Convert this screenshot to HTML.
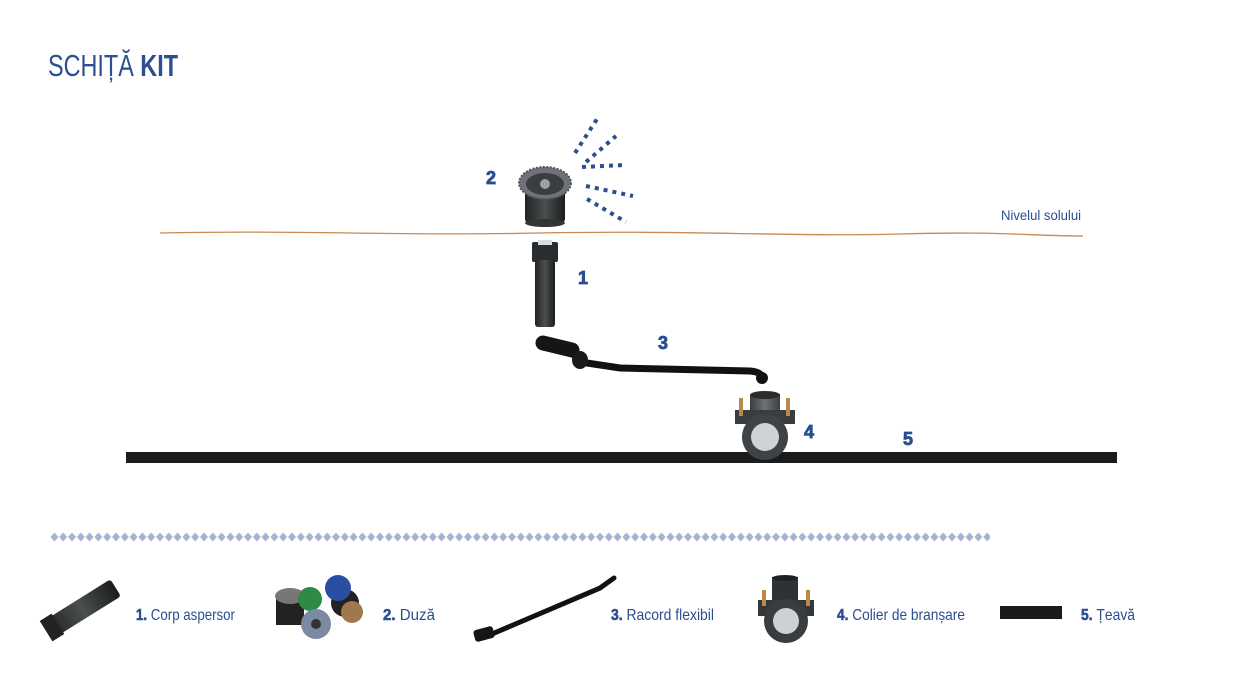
<!DOCTYPE html>
<html><head><meta charset="utf-8"><style>
html,body{margin:0;padding:0;background:#fff;}
svg{display:block;}
text{font-family:"Liberation Sans",sans-serif;}
</style></head><body>
<svg width="1244" height="700" viewBox="0 0 1244 700" xmlns="http://www.w3.org/2000/svg">
<defs>
<pattern id="dia" x="50" y="531" width="8.8" height="12" patternUnits="userSpaceOnUse">
<path d="M4.4 1.5 L8.4 6 L4.4 10.5 L0.4 6 Z" fill="#a3b3d3"/>
</pattern>
<linearGradient id="cyl" x1="0" x2="1"><stop offset="0" stop-color="#222"/><stop offset="0.5" stop-color="#4a4f4f"/><stop offset="1" stop-color="#1c1c1c"/></linearGradient>
<linearGradient id="gry" x1="0" x2="1"><stop offset="0" stop-color="#3a3d40"/><stop offset="0.5" stop-color="#6d7378"/><stop offset="1" stop-color="#3a3d40"/></linearGradient>
</defs>
<!-- title -->
<text x="48" y="76" font-size="31" fill="#2b4f90" textLength="130" lengthAdjust="spacingAndGlyphs">SCHIȚĂ <tspan font-weight="bold">KIT</tspan></text>

<!-- ground line -->
<path d="M160 233 C300 230 400 236 540 233 S800 237 900 234 S1030 236 1083 236" stroke="#c98a50" stroke-width="1.3" fill="none"/>
<text x="1001" y="220" font-size="14" fill="#2b4f90" textLength="80" lengthAdjust="spacingAndGlyphs">Nivelul solului</text>

<!-- spray dots -->
<g stroke="#2b4f90" stroke-width="4" stroke-dasharray="4 5" fill="none">
<path d="M575 153 L599 116"/>
<path d="M586 162 L616 136"/>
<path d="M582 167 L625 165"/>
<path d="M586 186 L633 196"/>
<path d="M587 199 L626 222"/>
</g>

<!-- nozzle (2) -->
<rect x="525" y="185" width="40" height="38" rx="4" fill="url(#cyl)"/>
<ellipse cx="545" cy="223" rx="20" ry="4" fill="#333"/>
<ellipse cx="545" cy="183" rx="26" ry="16" fill="#6f7377" stroke="#555" stroke-width="2" stroke-dasharray="2 1.5"/>
<ellipse cx="545" cy="184" rx="19" ry="11" fill="#3b3e40"/>
<circle cx="545" cy="184" r="5" fill="#9aa0a4"/>
<text x="486" y="184" font-size="18" font-weight="900" fill="#2b4f90" stroke="#2b4f90" stroke-width="0.8">2</text>

<!-- body (1) -->
<rect x="532" y="242" width="26" height="20" rx="2" fill="#2a2d2f"/>
<rect x="538" y="240" width="14" height="5" fill="#ddd"/>
<rect x="535" y="260" width="20" height="67" rx="3" fill="url(#cyl)"/>
<text x="578" y="284" font-size="18" font-weight="bold" fill="#2b4f90" stroke="#2b4f90" stroke-width="0.8">1</text>

<!-- flexible connector (3) -->
<path d="M545 344 L568 348 L580 362 L620 368 L750 371 Q762 372 762 378" stroke="#111" stroke-width="7" fill="none" stroke-linecap="round"/>
<path d="M543 343 L572 350" stroke="#151515" stroke-width="15" stroke-linecap="round"/>
<ellipse cx="580" cy="360" rx="8" ry="9" fill="#1a1a1a"/>
<circle cx="762" cy="378" r="6" fill="#111"/>
<text x="658" y="349" font-size="18" font-weight="bold" fill="#2b4f90" stroke="#2b4f90" stroke-width="0.8">3</text>

<!-- pipe (5) -->
<rect x="126" y="452" width="991" height="11" fill="#1b1b1b"/>
<text x="903" y="445" font-size="18" font-weight="bold" fill="#2b4f90" stroke="#2b4f90" stroke-width="0.8">5</text>

<!-- saddle (4) -->
<rect x="750" y="394" width="30" height="28" fill="url(#gry)"/>
<ellipse cx="765" cy="395" rx="15" ry="4" fill="#2a2c2e"/>
<rect x="735" y="410" width="60" height="14" fill="#3a3d40"/>
<circle cx="765" cy="437" r="23" fill="#3f4346"/>
<circle cx="765" cy="437" r="14" fill="#cfd3d6"/>
<rect x="739" y="398" width="4" height="18" fill="#b98a4c"/>
<rect x="786" y="398" width="4" height="18" fill="#b98a4c"/>
<text x="804" y="438" font-size="18" font-weight="bold" fill="#2b4f90" stroke="#2b4f90" stroke-width="0.8">4</text>

<!-- diamond divider -->
<rect x="50" y="531" width="940" height="12" fill="url(#dia)"/>

<!-- legend 1 -->
<g transform="rotate(-32 80 610)">
<rect x="42" y="600" width="80" height="20" rx="3" fill="url(#cyl)"/>
<rect x="40" y="598" width="14" height="24" fill="#222"/>
</g>
<text x="136" y="620" font-size="16" fill="#2b4f90" textLength="99" lengthAdjust="spacingAndGlyphs"><tspan font-weight="bold" stroke="#2b4f90" stroke-width="0.6">1.</tspan> Corp aspersor</text>

<!-- legend 2 -->
<rect x="276" y="595" width="28" height="30" fill="#222"/>
<ellipse cx="290" cy="596" rx="15" ry="8" fill="#777"/>
<circle cx="310" cy="599" r="12" fill="#2e8a45"/>
<circle cx="345" cy="603" r="14" fill="#222"/>
<circle cx="352" cy="612" r="11" fill="#a0784f"/>
<circle cx="338" cy="588" r="13" fill="#2a4ea0"/>
<circle cx="316" cy="624" r="15" fill="#7a8aa3"/>
<circle cx="316" cy="624" r="5" fill="#333"/>
<text x="383" y="620" font-size="16" fill="#2b4f90" textLength="52" lengthAdjust="spacingAndGlyphs"><tspan font-weight="bold" stroke="#2b4f90" stroke-width="0.6">2.</tspan> Duză</text>

<!-- legend 3 -->
<path d="M485 637 L600 588 L614 578" stroke="#111" stroke-width="5" fill="none" stroke-linecap="round"/>
<rect x="474" y="628" width="20" height="12" rx="3" fill="#151515" transform="rotate(-15 484 634)"/>
<text x="611" y="620" font-size="16" fill="#2b4f90" textLength="103" lengthAdjust="spacingAndGlyphs"><tspan font-weight="bold" stroke="#2b4f90" stroke-width="0.6">3.</tspan> Racord flexibil</text>

<!-- legend 4 -->
<rect x="772" y="577" width="26" height="25" fill="#2f3234"/>
<ellipse cx="785" cy="578" rx="13" ry="3" fill="#1e2022"/>
<rect x="758" y="600" width="56" height="16" fill="#35383a"/>
<circle cx="786" cy="621" r="22" fill="#3a3d40"/>
<circle cx="786" cy="621" r="13" fill="#cdd1d4"/>
<rect x="762" y="590" width="4" height="16" fill="#b98a4c"/>
<rect x="806" y="590" width="4" height="16" fill="#b98a4c"/>
<text x="837" y="620" font-size="16" fill="#2b4f90" textLength="128" lengthAdjust="spacingAndGlyphs"><tspan font-weight="bold" stroke="#2b4f90" stroke-width="0.6">4.</tspan> Colier de branșare</text>

<!-- legend 5 -->
<rect x="1000" y="606" width="62" height="13" fill="#1b1b1b"/>
<text x="1081" y="620" font-size="16" fill="#2b4f90" textLength="54" lengthAdjust="spacingAndGlyphs"><tspan font-weight="bold" stroke="#2b4f90" stroke-width="0.6">5.</tspan> Țeavă</text>
</svg>
</body></html>
